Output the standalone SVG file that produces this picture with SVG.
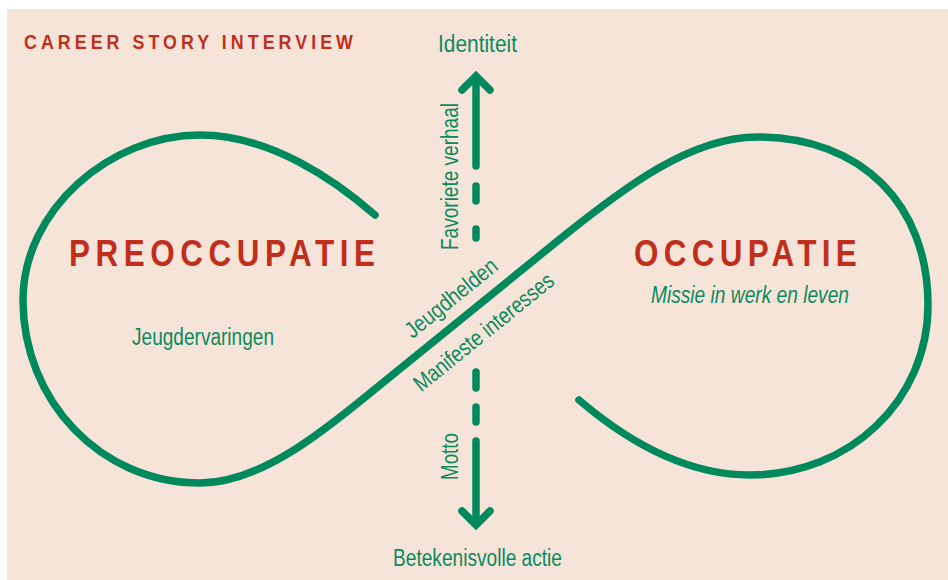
<svg xmlns="http://www.w3.org/2000/svg" width="948" height="580" viewBox="0 0 948 580">
<style>
.bg{fill:#F7E4D9}
.curve{fill:none;stroke:#00895C;stroke-width:7.5;stroke-linecap:round;stroke-linejoin:round}
.arr{fill:none;stroke:#00895C;stroke-width:7.5;stroke-linecap:round}
.head{fill:none;stroke:#00895C;stroke-width:7.5;stroke-linecap:round;stroke-linejoin:miter}
.lbl{font-family:"Liberation Sans",Arial,sans-serif;font-size:23px;fill:#0B8A5E}
.big{font-family:"Liberation Sans",Arial,sans-serif;font-weight:bold;font-size:37px;fill:#C02F1C}
.title{font-family:"Liberation Sans",Arial,sans-serif;font-weight:bold;font-size:21px;fill:#C02F1C}
</style>
<rect class="bg" x="7" y="9" width="941" height="571"/>
<g id="title"><text class="title" transform="translate(24,49) scale(0.85,1)" x="0" y="0" textLength="387" lengthAdjust="spacing">CAREER STORY INTERVIEW</text></g>
<g id="infinity">
<path class="curve" d="M375,215 C335,180 270,135 200,135 C110,135 23,210 23,300 C23,400 100,483 200,483 C265,483 333,423 380,385 L560,239 C622,189 690,137 757,137 C862,137 928,205 928,305 C928,400 850,475 750,475 C680,475 620,435 579,400"/>
</g>
<g id="connectors">
<g id="arrow-up">
<line class="arr" x1="476" y1="78" x2="476" y2="166"/>
<line class="arr" x1="476" y1="186" x2="476" y2="201"/>
<line class="arr" x1="476" y1="229" x2="476" y2="238"/>
<polyline class="head" points="462,90 476,76 490,90"/>
</g>
<g id="arrow-down">
<line class="arr" x1="476" y1="372" x2="476" y2="388"/>
<line class="arr" x1="476" y1="407" x2="476" y2="422"/>
<line class="arr" x1="476" y1="441" x2="476" y2="522"/>
<polyline class="head" points="462,511 476,525 490,511"/>
</g>
</g>
<g id="node-identiteit"><text class="lbl" x="438" y="52" textLength="79" lengthAdjust="spacingAndGlyphs">Identiteit</text></g>
<g id="node-betekenisvolle-actie"><text class="lbl" x="393" y="566" textLength="169" lengthAdjust="spacingAndGlyphs">Betekenisvolle actie</text></g>
<g id="node-preoccupatie">
<text class="big" transform="translate(69,266) scale(0.85,1)" x="0" y="0" textLength="360" lengthAdjust="spacing">PREOCCUPATIE</text>
<text class="lbl" x="132" y="345" textLength="142" lengthAdjust="spacingAndGlyphs">Jeugdervaringen</text>
</g>
<g id="node-occupatie">
<text class="big" transform="translate(634,266) scale(0.85,1)" x="0" y="0" textLength="262" lengthAdjust="spacing">OCCUPATIE</text>
<text class="lbl" x="651" y="303" font-style="italic" textLength="198" lengthAdjust="spacingAndGlyphs">Missie in werk en leven</text>
</g>
<g id="labels">
<text class="lbl" transform="translate(458,176.5) rotate(-90)" x="0" y="0" text-anchor="middle" textLength="147" lengthAdjust="spacingAndGlyphs">Favoriete verhaal</text>
<text class="lbl" transform="translate(458,456.5) rotate(-90)" x="0" y="0" text-anchor="middle" textLength="47" lengthAdjust="spacingAndGlyphs">Motto</text>
<text class="lbl" transform="translate(456,304) rotate(-39)" x="0" y="0" text-anchor="middle" textLength="112" lengthAdjust="spacingAndGlyphs">Jeugdhelden</text>
<text class="lbl" transform="translate(488.5,338) rotate(-39)" x="0" y="0" text-anchor="middle" textLength="173" lengthAdjust="spacingAndGlyphs">Manifeste interesses</text>
</g>
</svg>
